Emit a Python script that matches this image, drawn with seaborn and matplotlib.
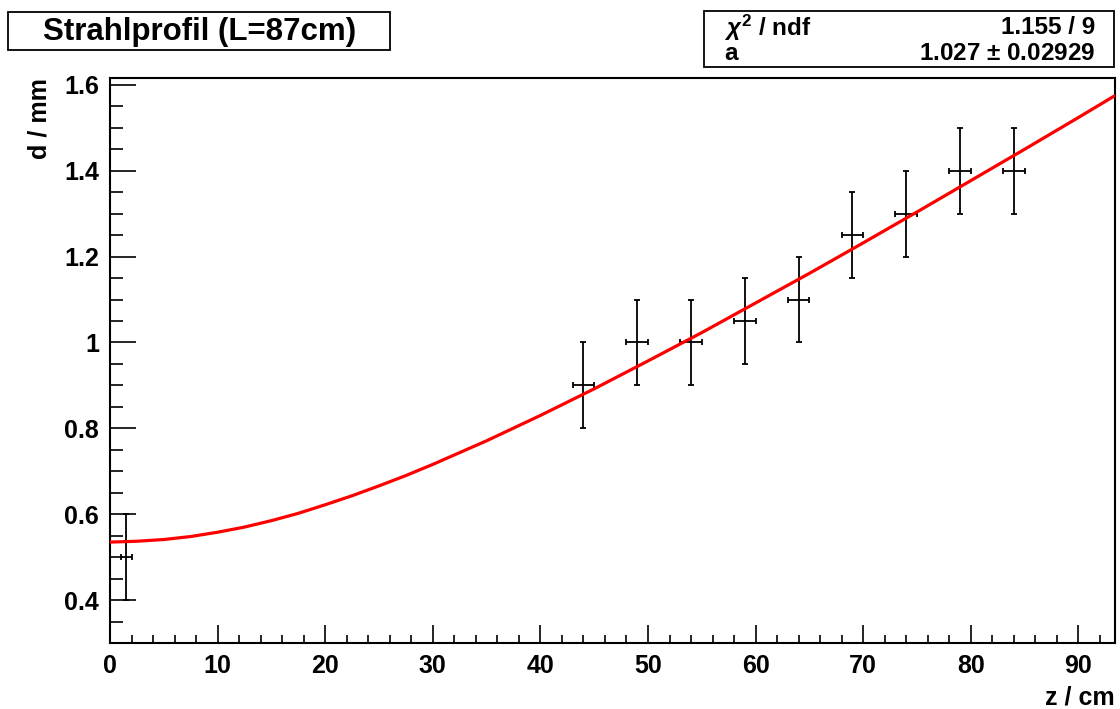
import numpy as np
import pandas as pd
import seaborn as sns
import matplotlib.pyplot as plt
from matplotlib.patches import Rectangle
from matplotlib.ticker import MultipleLocator

# measured beam diameter
z_cm = [1.5, 44, 49, 54, 59, 64, 69, 74, 79, 84]
d_mm = [0.5, 0.9, 1.0, 1.0, 1.05, 1.1, 1.25, 1.3, 1.4, 1.4]
z_err = [0.5, 1, 1, 1, 1, 1, 1, 1, 1, 1]
d_err = [0.1, 0.1, 0.1, 0.1, 0.1, 0.1, 0.1, 0.1, 0.1, 0.1]

# fit curve
fit_z = [0, 2.5, 5, 7.5, 10, 12.5, 15, 17.5, 20, 22.5, 25, 27.5, 30, 35, 40, 45,
         50, 55, 60, 65, 70, 75, 80, 85, 90, 93.4]
fit_d = [0.535, 0.537, 0.541, 0.548, 0.558, 0.570, 0.585, 0.602, 0.622, 0.643,
         0.666, 0.690, 0.716, 0.771, 0.830, 0.892, 0.957, 1.023, 1.092, 1.161,
         1.232, 1.304, 1.377, 1.450, 1.524, 1.575]

sns.set_style("white")
plt.rcParams['font.family'] = ['Liberation Sans', 'DejaVu Sans']
plt.rcParams['font.weight'] = 'bold'
plt.rcParams['text.color'] = 'black'
plt.rcParams['axes.labelcolor'] = 'black'
plt.rcParams['xtick.color'] = 'black'
plt.rcParams['ytick.color'] = 'black'
plt.rcParams['mathtext.fontset'] = 'custom'
plt.rcParams['mathtext.rm'] = 'Liberation Sans:bold'
plt.rcParams['mathtext.it'] = 'Liberation Sans:bold:italic'

fig = plt.figure(figsize=(11.2, 7.09), dpi=100)
ax = fig.add_axes([110 / 1120, 66 / 709, 1005 / 1120, 565 / 709])

fit_df = pd.DataFrame({'z': fit_z, 'd': fit_d})
sns.lineplot(data=fit_df, x='z', y='d', color='#ff0000', lw=2.3, ax=ax, zorder=3)
ax.errorbar(z_cm, d_mm, xerr=z_err, yerr=d_err, fmt='none', ecolor='black',
            elinewidth=1.3, capsize=2, capthick=1.3, zorder=2)

ax.set_xlim(0, 93.4)
ax.set_ylim(0.3, 1.616)
ax.xaxis.set_major_locator(MultipleLocator(10))
ax.xaxis.set_minor_locator(MultipleLocator(2))
ax.yaxis.set_major_locator(MultipleLocator(0.2))
ax.yaxis.set_minor_locator(MultipleLocator(0.05))
ax.yaxis.set_major_formatter(plt.FuncFormatter(lambda v, p: f"{v:g}"))
ax.tick_params(axis='both', which='both', direction='in', color='black',
               labelsize=18, width=1.2, bottom=True, left=True, top=False, right=False)
ax.tick_params(axis='x', which='major', length=13, pad=8)
ax.tick_params(axis='x', which='minor', length=6)
ax.tick_params(axis='y', which='major', length=18.5, pad=8)
ax.tick_params(axis='y', which='minor', length=9.5)
for s in ax.spines.values():
    s.set_color('black')
    s.set_linewidth(1.5)

ax.set_xlabel('z / cm', fontsize=18, fontweight='bold')
ax.xaxis.set_label_coords(1.0, -0.075)
ax.xaxis.label.set_horizontalalignment('right')
ax.set_ylabel('d / mm', fontsize=18, fontweight='bold')
ax.yaxis.set_label_coords(-0.058, 1.0)
ax.yaxis.label.set_horizontalalignment('right')

# title box
fig.add_artist(Rectangle((8 / 1120, 659 / 709), 382 / 1120, 38 / 709,
                         transform=fig.transFigure, fill=False, ec='black', lw=1.3))
fig.text(200 / 1120, 677 / 709, 'Strahlprofil (L=87cm)', ha='center', va='center',
         fontsize=22.5, fontweight='bold')

# stats box
fig.add_artist(Rectangle((704 / 1120, 642 / 709), 410 / 1120, 56 / 709,
                         transform=fig.transFigure, fill=False, ec='black', lw=1.3))
fig.text(724 / 1120, 681 / 709, r'$\chi^{2}$ / ndf', ha='left', va='center', fontsize=17.5)
fig.text(1095 / 1120, 681 / 709, '1.155 / 9', ha='right', va='center', fontsize=17.5)
fig.text(724 / 1120, 655 / 709, 'a', ha='left', va='center', fontsize=17.5)
fig.text(1095 / 1120, 655 / 709, r'1.027 $\pm$ 0.02929', ha='right', va='center', fontsize=17.5)

fig.savefig('out.png', dpi=100)
